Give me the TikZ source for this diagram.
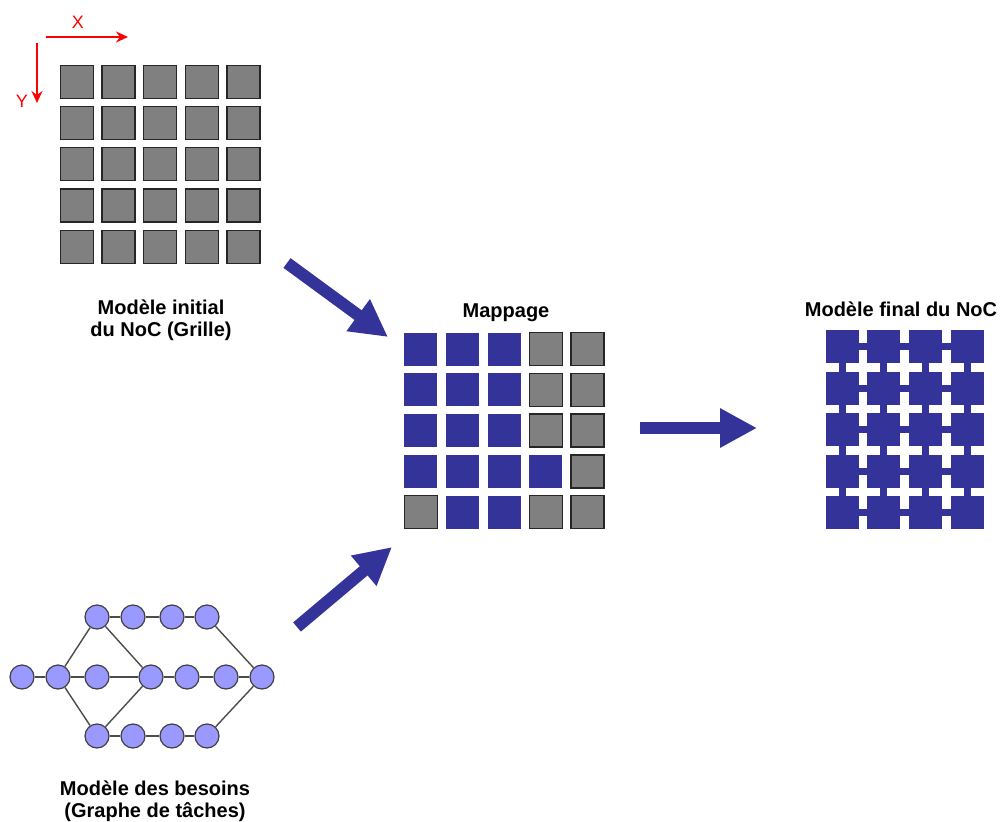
\documentclass[tikz,border=0pt]{standalone}
\usepackage{fontspec}
\setmainfont{Liberation Sans}
\usetikzlibrary{arrows.meta}

\definecolor{nocblue}{HTML}{333399}
\definecolor{cellgrey}{HTML}{808080}
\definecolor{taskfill}{HTML}{9999FF}

\begin{document}
\begin{tikzpicture}[
    x=1pt, y=-1pt,
    cell/.style={minimum size=33pt, inner sep=0pt, outer sep=0pt},
    free/.style={cell, fill=cellgrey, draw=black!85, line width=1.4pt},
    mapped/.style={cell, fill=nocblue},
    link/.style={nocblue, line width=7pt},
    task/.style={circle, minimum size=24pt, inner sep=0pt,
        fill=taskfill, draw=black!75, line width=1.2pt},
    dep/.style={black!70, line width=1.4pt},
    axis/.style={red, line width=1.3pt, -{Stealth[length=12pt,width=11pt]}},
    big arrow/.style={nocblue, line width=12pt,
        -{Triangle[length=37pt,width=37pt]}},
    title/.style={font=\bfseries\fontsize{20}{22}\selectfont, align=center}
    ]
    \useasboundingbox (0,0) rectangle (1002,822);
    % axes of the grid
    \coordinate (xs) at (46,37);
    \coordinate (xe) at (128,37);
    \coordinate (ys) at (37,43);
    \coordinate (ye) at (37,103);
    \draw[axis] (xs) -- (xe);
    \draw[axis] (ys) -- (ye);
    \node[red, font=\fontsize{18}{18}\selectfont] (xlabel) at (78,22) {X};
    \node[red, font=\fontsize{18}{18}\selectfont] (ylabel) at (22,101) {Y};
    % initial grid
    \foreach \r in {1,...,5}
        \foreach \c in {1,...,5}
            \node[free] (i-\r-\c) at ({76.7+41.67*(\c-1)},{81.7+41.25*(\r-1)}) {};
    \node[title] (initial) at (161,320) {Modèle initial\\du NoC (Grille)};
    % mapping
    \foreach \r/\pat in {1/{mapped,mapped,mapped,free,free},
                         2/{mapped,mapped,mapped,free,free},
                         3/{mapped,mapped,mapped,free,free},
                         4/{mapped,mapped,mapped,mapped,free},
                         5/{free,mapped,mapped,free,free}}
        \foreach \s [count=\c] in \pat
            \node[\s] (m-\r-\c) at ({420.7+41.7*(\c-1)},{349+40.8*(\r-1)}) {};
    \node[title, anchor=base] (mapping) at (506,317) {Mappage};
    % final NoC
    \foreach \r in {1,...,5}
        \foreach \c in {1,...,4}
            \node[mapped] (f-\r-\c) at ({842+41.9*(\c-1)},{346.7+41.5*(\r-1)}) {};
    \foreach \r in {1,...,5}
        \foreach \c in {1,2,3} {
            \pgfmathtruncatemacro{\d}{\c+1}
            \draw[link] (f-\r-\c) -- (f-\r-\d);
        }
    \foreach \r in {1,...,4}
        \foreach \c in {1,...,4} {
            \pgfmathtruncatemacro{\d}{\r+1}
            \draw[link] (f-\r-\c) -- (f-\d-\c);
        }
    \node[title, anchor=base] (final) at (901,316) {Modèle final du NoC};
    % task graph
    \foreach \n/\x in {1/97,2/133,3/172,4/207} {
        \node[task] (t\n) at (\x,617) {};
        \node[task] (b\n) at (\x,736) {};
    }
    \foreach \n/\x in {1/22,2/58,3/97,4/151,5/187,6/226,7/262}
        \node[task] (m\n) at (\x,677) {};
    \foreach \a/\b in {m1/m2,m2/m3,m3/m4,m4/m5,m5/m6,m6/m7,
                       t1/t2,t2/t3,t3/t4,b1/b2,b2/b3,b3/b4,
                       m2/t1,m2/b1,t1/m4,b1/m4,t4/m7,b4/m7}
        \draw[dep] (\a) -- (\b);
    \node[title] (tasks) at (155,801) {Modèle des besoins\\(Graphe de tâches)};
    % big arrows
    \coordinate (a1s) at (287,263);
    \coordinate (a1e) at (388,337);
    \coordinate (a2s) at (297,627);
    \coordinate (a2e) at (392,547);
    \coordinate (a3s) at (640,428);
    \coordinate (a3e) at (757,428);
    \draw[big arrow] (a1s) -- (a1e);
    \draw[big arrow] (a2s) -- (a2e);
    \draw[big arrow] (a3s) -- (a3e);
\end{tikzpicture}
\end{document}
